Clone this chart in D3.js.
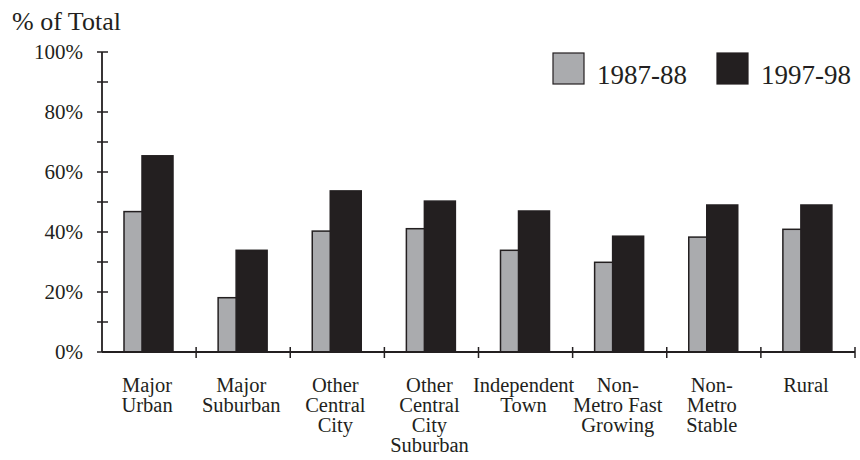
<!DOCTYPE html>
<html>
<head>
<meta charset="utf-8">
<script src="https://cdn.jsdelivr.net/npm/d3@7"></script>
<style>
    body { margin: 0; background: #fff; }
    text { font-family: "Liberation Serif", "Times New Roman", serif; fill: #231f20; }
</style>
</head>
<body>
<div id="chart"></div>
<script>
// categories and values
const categories = [
    ["Major", "Urban"],
    ["Major", "Suburban"],
    ["Other", "Central", "City"],
    ["Other", "Central", "City", "Suburban"],
    ["Independent", "Town"],
    ["Non-", "Metro Fast", "Growing"],
    ["Non-", "Metro", "Stable"],
    ["Rural"]
];
const series = ["1987-88", "1997-98"];
const values8788 = [46.8, 18.1, 40.3, 41.1, 33.9, 29.9, 38.3, 40.9];
const values9798 = [65.4, 33.9, 53.7, 50.3, 47.0, 38.6, 49.0, 49.0];
const yTicks = [0, 20, 40, 60, 80, 100];
const yMinor = [10, 30, 50, 70, 90];

const width = 860, height = 460;
const margin = { left: 102, right: 5, top: 52, bottom: 108 };
const ink = "#231f20";
const colors = { "1987-88": "#aaabae", "1997-98": "#231f20" };

const svg = d3.select("#chart")
    .append("svg")
    .attr("width", width)
    .attr("height", height);

const keys = categories.map(c => c.join(" "));
const x = d3.scaleBand()
    .domain(keys)
    .range([margin.left, width - margin.right])
    .padding(0);
const y = d3.scaleLinear()
    .domain([0, 100])
    .range([height - margin.bottom, margin.top]);
// overlapping bars inside each band
const xs = d3.scalePoint().domain(series).range([22, 40]);
const barW = 31;

const data = keys.map((k, i) => ({ key: k, "1987-88": values8788[i], "1997-98": values9798[i] }));

// bars, grey first then black over it
series.forEach(s => {
    svg.append("g")
        .selectAll("rect")
        .data(data)
        .enter()
        .append("rect")
        .attr("x", d => x(d.key) + xs(s))
        .attr("y", d => y(d[s]))
        .attr("width", barW)
        .attr("height", d => y(0) - y(d[s]))
        .attr("fill", colors[s])
        .attr("stroke", ink)
        .attr("stroke-width", 1.5);
});

// y axis
const yAxis = svg.append("g")
    .attr("transform", `translate(${margin.left},0)`);
yAxis.append("line")
    .attr("y1", y(0)).attr("y2", y(100))
    .attr("stroke", ink).attr("stroke-width", 1.8);
yAxis.selectAll(".tk")
    .data(yTicks.concat(yMinor))
    .enter()
    .append("line")
    .attr("x1", -5).attr("x2", 6)
    .attr("y1", d => y(d)).attr("y2", d => y(d))
    .attr("stroke", ink).attr("stroke-width", 1.5);
yAxis.selectAll("text")
    .data(yTicks)
    .enter()
    .append("text")
    .attr("x", -19)
    .attr("y", d => y(d))
    .attr("dy", "0.35em")
    .attr("text-anchor", "end")
    .style("font-size", "21px")
    .text(d => d + "%");

svg.append("text")
    .attr("x", 12)
    .attr("y", 30)
    .style("font-size", "26px")
    .text("% of Total");

// x axis
const xAxis = svg.append("g")
    .attr("transform", `translate(0,${y(0)})`);
xAxis.append("line")
    .attr("x1", margin.left).attr("x2", width - margin.right)
    .attr("stroke", ink).attr("stroke-width", 1.8);
xAxis.selectAll(".tk")
    .data(keys)
    .enter()
    .append("line")
    .attr("x1", d => x(d) + x.bandwidth())
    .attr("x2", d => x(d) + x.bandwidth())
    .attr("y1", -5).attr("y2", 6)
    .attr("stroke", ink).attr("stroke-width", 1.5);

const labels = xAxis.selectAll(".lab")
    .data(categories)
    .enter()
    .append("text")
    .attr("text-anchor", "middle")
    .attr("transform", (d, i) => `translate(${x(keys[i]) + x.bandwidth() / 2 - 2},40)`)
    .style("font-size", "20.5px");
labels.selectAll("tspan")
    .data(d => d)
    .enter()
    .append("tspan")
    .attr("x", 0)
    .attr("y", (d, i) => i * 20)
    .text(d => d);

// legend
const legend = svg.append("g")
    .attr("transform", "translate(553,53)");
const legX = d3.scalePoint().domain(series).range([0, 164]);
series.forEach(s => {
    const g = legend.append("g").attr("transform", `translate(${legX(s)},0)`);
    g.append("rect")
        .attr("width", 31).attr("height", 31)
        .attr("fill", colors[s])
        .attr("stroke", ink).attr("stroke-width", 1.2);
    g.append("text")
        .attr("x", 44)
        .attr("y", 31)
        .style("font-size", "27px")
        .text(s);
});
</script>
</body>
</html>
